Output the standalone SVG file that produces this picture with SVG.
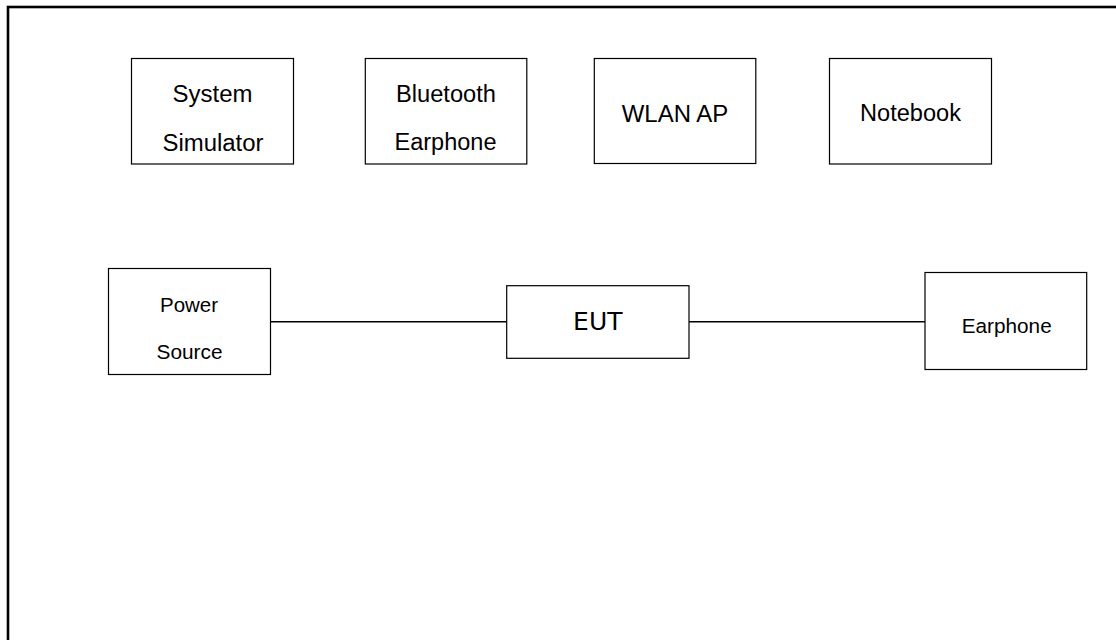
<svg xmlns="http://www.w3.org/2000/svg" width="1116" height="640" viewBox="0 0 1116 640">
<style>
.box{fill:#fff;stroke:#000;stroke-width:1.2}
.t{font-family:"Liberation Sans",Arial,sans-serif;fill:#000;text-anchor:middle}
.top{font-size:23px}
.bot{font-size:20.5px}
.conn{stroke:#000;stroke-width:1.4;fill:none}
</style>
<rect x="0" y="0" width="1116" height="640" fill="#fff"/>
<rect x="8" y="7" width="1130" height="660" fill="none" stroke="#000" stroke-width="2.6"/>
<g id="connectors">
<line class="conn" x1="270.7" y1="321.7" x2="506.7" y2="321.7"/>
<line class="conn" x1="689" y1="321.7" x2="925" y2="321.7"/>
</g>
<g id="system-simulator">
<rect class="box" x="131.5" y="58.5" width="162" height="105.5"/>
<text class="t top" x="212.5" y="101.7" textLength="80" lengthAdjust="spacingAndGlyphs">System</text>
<text class="t top" x="213" y="151" textLength="101" lengthAdjust="spacingAndGlyphs">Simulator</text>
</g>
<g id="bluetooth-earphone">
<rect class="box" x="365.3" y="58.5" width="161.5" height="105.5"/>
<text class="t top" x="446" y="101.7" textLength="100" lengthAdjust="spacingAndGlyphs">Bluetooth</text>
<text class="t top" x="445.5" y="150" textLength="102" lengthAdjust="spacingAndGlyphs">Earphone</text>
</g>
<g id="wlan-ap">
<rect class="box" x="594.3" y="58.5" width="161.5" height="105"/>
<text class="t top" x="675" y="121.7" textLength="106.5" lengthAdjust="spacingAndGlyphs">WLAN AP</text>
</g>
<g id="notebook">
<rect class="box" x="829.5" y="58.5" width="162" height="105.5"/>
<text class="t top" x="910.5" y="120.5" textLength="101" lengthAdjust="spacingAndGlyphs">Notebook</text>
</g>
<g id="power-source">
<rect class="box" x="108.5" y="268.5" width="162" height="106"/>
<text class="t bot" x="189" y="311.7" textLength="58" lengthAdjust="spacingAndGlyphs">Power</text>
<text class="t bot" x="189.5" y="359" textLength="66" lengthAdjust="spacingAndGlyphs">Source</text>
</g>
<g id="eut">
<rect class="box" x="506.7" y="285.7" width="182.3" height="72.6"/>
<text x="597.8" y="330" font-size="25" font-family="'DejaVu Sans',sans-serif" text-anchor="middle" fill="#000">EUT</text>
</g>
<g id="earphone">
<rect class="box" x="925" y="272.5" width="161.7" height="97"/>
<text class="t bot" x="1006.7" y="332.7" textLength="90" lengthAdjust="spacingAndGlyphs">Earphone</text>
</g>
</svg>
